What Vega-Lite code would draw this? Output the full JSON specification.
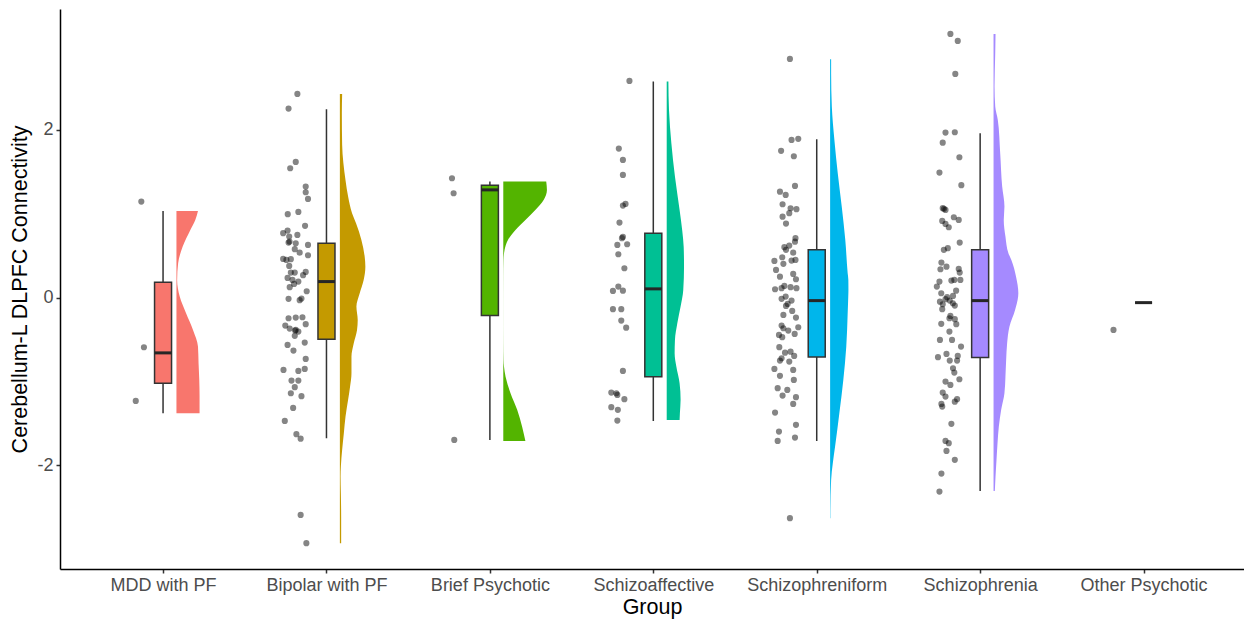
{
  "$schema": "https://vega.github.io/schema/vega-lite/v6.json",
  "width": 1184,
  "height": 560,
  "autosize": {"type": "none"},
  "padding": {"left": 60, "top": 9, "right": 0, "bottom": 51},
  "background": "white",
  "config": {
    "view": {"stroke": null},
    "font": "Liberation Sans",
    "axis": {"grid": false, "domainColor": "black", "domainWidth": 1.5, "tickColor": "#333333", "tickWidth": 1.5, "tickSize": 4, "labelFont": "Liberation Sans", "labelFontSize": 18, "labelColor": "#4D4D4D", "labelPadding": 3, "titleFont": "Liberation Sans", "titleFontSize": 21.5, "titleFontWeight": "normal", "titleColor": "black"}
  },
  "datasets": {
    "boxes": [
      {"group": "MDD with PF", "gx": 1, "lower": -1.378, "q1": -1.02, "median": -0.659, "q3": 0.183, "upper": 1.033},
      {"group": "Bipolar with PF", "gx": 2, "lower": -1.676, "q1": -0.496, "median": 0.191, "q3": 0.648, "upper": 2.245},
      {"group": "Brief Psychotic", "gx": 3, "lower": -1.696, "q1": -0.214, "median": 1.284, "q3": 1.34, "upper": 1.383},
      {"group": "Schizoaffective", "gx": 4, "lower": -1.47, "q1": -0.942, "median": 0.104, "q3": 0.767, "upper": 2.575},
      {"group": "Schizophreniform", "gx": 5, "lower": -1.708, "q1": -0.707, "median": -0.036, "q3": 0.569, "upper": 1.888},
      {"group": "Schizophrenia", "gx": 6, "lower": -2.304, "q1": -0.715, "median": -0.036, "q3": 0.569, "upper": 1.959},
      {"group": "Other Psychotic", "gx": 7, "lower": -0.06, "q1": -0.06, "median": -0.06, "q3": -0.06, "upper": -0.06}
    ],
    "violins": [
      {"group": "MDD with PF", "y": 1.033, "xmin": 1.082, "xmax": 1.2137},
      {"group": "MDD with PF", "y": 0.926, "xmin": 1.082, "xmax": 1.1973},
      {"group": "MDD with PF", "y": 0.807, "xmin": 1.082, "xmax": 1.167},
      {"group": "MDD with PF", "y": 0.608, "xmin": 1.082, "xmax": 1.1202},
      {"group": "MDD with PF", "y": 0.41, "xmin": 1.082, "xmax": 1.0923},
      {"group": "MDD with PF", "y": 0.211, "xmin": 1.082, "xmax": 1.0862},
      {"group": "MDD with PF", "y": 0.012, "xmin": 1.082, "xmax": 1.102},
      {"group": "MDD with PF", "y": -0.186, "xmin": 1.082, "xmax": 1.1409},
      {"group": "MDD with PF", "y": -0.385, "xmin": 1.082, "xmax": 1.1833},
      {"group": "MDD with PF", "y": -0.584, "xmin": 1.082, "xmax": 1.2137},
      {"group": "MDD with PF", "y": -0.782, "xmin": 1.082, "xmax": 1.2173},
      {"group": "MDD with PF", "y": -0.981, "xmin": 1.082, "xmax": 1.2216},
      {"group": "MDD with PF", "y": -1.18, "xmin": 1.082, "xmax": 1.2234},
      {"group": "MDD with PF", "y": -1.378, "xmin": 1.082, "xmax": 1.2234},
      {"group": "Bipolar with PF", "y": 2.428, "xmin": 2.082, "xmax": 2.096},
      {"group": "Bipolar with PF", "y": 2.2, "xmin": 2.082, "xmax": 2.0941},
      {"group": "Bipolar with PF", "y": 1.82, "xmin": 2.082, "xmax": 2.096},
      {"group": "Bipolar with PF", "y": 1.4, "xmin": 2.082, "xmax": 2.1166},
      {"group": "Bipolar with PF", "y": 1.204, "xmin": 2.082, "xmax": 2.1324},
      {"group": "Bipolar with PF", "y": 1.006, "xmin": 2.082, "xmax": 2.1566},
      {"group": "Bipolar with PF", "y": 0.887, "xmin": 2.082, "xmax": 2.1809},
      {"group": "Bipolar with PF", "y": 0.688, "xmin": 2.082, "xmax": 2.2137},
      {"group": "Bipolar with PF", "y": 0.489, "xmin": 2.082, "xmax": 2.2337},
      {"group": "Bipolar with PF", "y": 0.369, "xmin": 2.082, "xmax": 2.238},
      {"group": "Bipolar with PF", "y": 0.211, "xmin": 2.082, "xmax": 2.2276},
      {"group": "Bipolar with PF", "y": 0.052, "xmin": 2.082, "xmax": 2.2034},
      {"group": "Bipolar with PF", "y": -0.107, "xmin": 2.082, "xmax": 2.1833},
      {"group": "Bipolar with PF", "y": -0.266, "xmin": 2.082, "xmax": 2.1912},
      {"group": "Bipolar with PF", "y": -0.385, "xmin": 2.082, "xmax": 2.187},
      {"group": "Bipolar with PF", "y": -0.544, "xmin": 2.082, "xmax": 2.167},
      {"group": "Bipolar with PF", "y": -0.703, "xmin": 2.082, "xmax": 2.153},
      {"group": "Bipolar with PF", "y": -0.901, "xmin": 2.082, "xmax": 2.153},
      {"group": "Bipolar with PF", "y": -1.061, "xmin": 2.082, "xmax": 2.1445},
      {"group": "Bipolar with PF", "y": -1.219, "xmin": 2.082, "xmax": 2.1324},
      {"group": "Bipolar with PF", "y": -1.418, "xmin": 2.082, "xmax": 2.1166},
      {"group": "Bipolar with PF", "y": -1.616, "xmin": 2.082, "xmax": 2.1063},
      {"group": "Bipolar with PF", "y": -1.815, "xmin": 2.082, "xmax": 2.096},
      {"group": "Bipolar with PF", "y": -2.014, "xmin": 2.082, "xmax": 2.0881},
      {"group": "Bipolar with PF", "y": -2.133, "xmin": 2.082, "xmax": 2.0862},
      {"group": "Bipolar with PF", "y": -2.332, "xmin": 2.082, "xmax": 2.0881},
      {"group": "Bipolar with PF", "y": -2.61, "xmin": 2.082, "xmax": 2.0899},
      {"group": "Bipolar with PF", "y": -2.927, "xmin": 2.082, "xmax": 2.0899},
      {"group": "Brief Psychotic", "y": 1.383, "xmin": 3.082, "xmax": 3.3447},
      {"group": "Brief Psychotic", "y": 1.284, "xmin": 3.082, "xmax": 3.349},
      {"group": "Brief Psychotic", "y": 1.164, "xmin": 3.082, "xmax": 3.329},
      {"group": "Brief Psychotic", "y": 1.045, "xmin": 3.082, "xmax": 3.278},
      {"group": "Brief Psychotic", "y": 0.926, "xmin": 3.082, "xmax": 3.2173},
      {"group": "Brief Psychotic", "y": 0.807, "xmin": 3.082, "xmax": 3.1566},
      {"group": "Brief Psychotic", "y": 0.688, "xmin": 3.082, "xmax": 3.1105},
      {"group": "Brief Psychotic", "y": 0.569, "xmin": 3.082, "xmax": 3.0899},
      {"group": "Brief Psychotic", "y": 0.449, "xmin": 3.082, "xmax": 3.0838},
      {"group": "Brief Psychotic", "y": 0.25, "xmin": 3.082, "xmax": 3.0826},
      {"group": "Brief Psychotic", "y": -0.147, "xmin": 3.082, "xmax": 3.0823},
      {"group": "Brief Psychotic", "y": -0.544, "xmin": 3.082, "xmax": 3.0826},
      {"group": "Brief Psychotic", "y": -0.743, "xmin": 3.082, "xmax": 3.0838},
      {"group": "Brief Psychotic", "y": -0.822, "xmin": 3.082, "xmax": 3.0862},
      {"group": "Brief Psychotic", "y": -0.942, "xmin": 3.082, "xmax": 3.096},
      {"group": "Brief Psychotic", "y": -1.14, "xmin": 3.082, "xmax": 3.1263},
      {"group": "Brief Psychotic", "y": -1.338, "xmin": 3.082, "xmax": 3.167},
      {"group": "Brief Psychotic", "y": -1.538, "xmin": 3.082, "xmax": 3.1973},
      {"group": "Brief Psychotic", "y": -1.708, "xmin": 3.082, "xmax": 3.2173},
      {"group": "Schizoaffective", "y": 2.575, "xmin": 4.082, "xmax": 4.0923},
      {"group": "Schizoaffective", "y": 2.237, "xmin": 4.082, "xmax": 4.096},
      {"group": "Schizoaffective", "y": 1.84, "xmin": 4.082, "xmax": 4.1105},
      {"group": "Schizoaffective", "y": 1.442, "xmin": 4.082, "xmax": 4.1324},
      {"group": "Schizoaffective", "y": 1.045, "xmin": 4.082, "xmax": 4.1609},
      {"group": "Schizoaffective", "y": 0.8, "xmin": 4.082, "xmax": 4.177},
      {"group": "Schizoaffective", "y": 0.6, "xmin": 4.082, "xmax": 4.186},
      {"group": "Schizoaffective", "y": 0.369, "xmin": 4.082, "xmax": 4.188},
      {"group": "Schizoaffective", "y": 0.092, "xmin": 4.082, "xmax": 4.1833},
      {"group": "Schizoaffective", "y": -0.107, "xmin": 4.082, "xmax": 4.167},
      {"group": "Schizoaffective", "y": -0.305, "xmin": 4.082, "xmax": 4.1469},
      {"group": "Schizoaffective", "y": -0.504, "xmin": 4.082, "xmax": 4.1324},
      {"group": "Schizoaffective", "y": -0.663, "xmin": 4.082, "xmax": 4.1305},
      {"group": "Schizoaffective", "y": -0.822, "xmin": 4.082, "xmax": 4.1409},
      {"group": "Schizoaffective", "y": -1.02, "xmin": 4.082, "xmax": 4.1609},
      {"group": "Schizoaffective", "y": -1.219, "xmin": 4.082, "xmax": 4.167},
      {"group": "Schizoaffective", "y": -1.378, "xmin": 4.082, "xmax": 4.1627},
      {"group": "Schizoaffective", "y": -1.458, "xmin": 4.082, "xmax": 4.1609},
      {"group": "Schizophreniform", "y": 2.841, "xmin": 5.082, "xmax": 5.0881},
      {"group": "Schizophreniform", "y": 2.675, "xmin": 5.082, "xmax": 5.0881},
      {"group": "Schizophreniform", "y": 2.277, "xmin": 5.082, "xmax": 5.0923},
      {"group": "Schizophreniform", "y": 1.88, "xmin": 5.082, "xmax": 5.1081},
      {"group": "Schizophreniform", "y": 1.483, "xmin": 5.082, "xmax": 5.1287},
      {"group": "Schizophreniform", "y": 1.085, "xmin": 5.082, "xmax": 5.153},
      {"group": "Schizophreniform", "y": 0.688, "xmin": 5.082, "xmax": 5.1748},
      {"group": "Schizophreniform", "y": 0.291, "xmin": 5.082, "xmax": 5.1894},
      {"group": "Schizophreniform", "y": 0.211, "xmin": 5.082, "xmax": 5.1935},
      {"group": "Schizophreniform", "y": 0.092, "xmin": 5.082, "xmax": 5.194},
      {"group": "Schizophreniform", "y": 0.012, "xmin": 5.082, "xmax": 5.193},
      {"group": "Schizophreniform", "y": -0.186, "xmin": 5.082, "xmax": 5.1894},
      {"group": "Schizophreniform", "y": -0.584, "xmin": 5.082, "xmax": 5.1809},
      {"group": "Schizophreniform", "y": -0.981, "xmin": 5.082, "xmax": 5.1627},
      {"group": "Schizophreniform", "y": -1.378, "xmin": 5.082, "xmax": 5.1384},
      {"group": "Schizophreniform", "y": -1.776, "xmin": 5.082, "xmax": 5.1123},
      {"group": "Schizophreniform", "y": -1.974, "xmin": 5.082, "xmax": 5.0984},
      {"group": "Schizophreniform", "y": -2.173, "xmin": 5.082, "xmax": 5.0881},
      {"group": "Schizophreniform", "y": -2.57, "xmin": 5.082, "xmax": 5.0838},
      {"group": "Schizophreniform", "y": -2.629, "xmin": 5.082, "xmax": 5.0838},
      {"group": "Schizophrenia", "y": 3.143, "xmin": 6.082, "xmax": 6.0941},
      {"group": "Schizophrenia", "y": 2.913, "xmin": 6.082, "xmax": 6.0923},
      {"group": "Schizophrenia", "y": 2.515, "xmin": 6.082, "xmax": 6.0881},
      {"group": "Schizophrenia", "y": 2.277, "xmin": 6.082, "xmax": 6.0923},
      {"group": "Schizophrenia", "y": 2.118, "xmin": 6.082, "xmax": 6.1081},
      {"group": "Schizophrenia", "y": 1.721, "xmin": 6.082, "xmax": 6.1227},
      {"group": "Schizophrenia", "y": 1.323, "xmin": 6.082, "xmax": 6.1348},
      {"group": "Schizophrenia", "y": 1.085, "xmin": 6.082, "xmax": 6.1487},
      {"group": "Schizophrenia", "y": 0.926, "xmin": 6.082, "xmax": 6.1445},
      {"group": "Schizophrenia", "y": 0.727, "xmin": 6.082, "xmax": 6.1548},
      {"group": "Schizophrenia", "y": 0.529, "xmin": 6.082, "xmax": 6.173},
      {"group": "Schizophrenia", "y": 0.449, "xmin": 6.082, "xmax": 6.191},
      {"group": "Schizophrenia", "y": 0.25, "xmin": 6.082, "xmax": 6.2197},
      {"group": "Schizophrenia", "y": 0.052, "xmin": 6.082, "xmax": 6.2337},
      {"group": "Schizophrenia", "y": -0.147, "xmin": 6.082, "xmax": 6.2137},
      {"group": "Schizophrenia", "y": -0.346, "xmin": 6.082, "xmax": 6.1791},
      {"group": "Schizophrenia", "y": -0.544, "xmin": 6.082, "xmax": 6.1651},
      {"group": "Schizophrenia", "y": -0.743, "xmin": 6.082, "xmax": 6.1591},
      {"group": "Schizophrenia", "y": -0.942, "xmin": 6.082, "xmax": 6.1548},
      {"group": "Schizophrenia", "y": -1.14, "xmin": 6.082, "xmax": 6.1487},
      {"group": "Schizophrenia", "y": -1.338, "xmin": 6.082, "xmax": 6.1287},
      {"group": "Schizophrenia", "y": -1.538, "xmin": 6.082, "xmax": 6.1142},
      {"group": "Schizophrenia", "y": -1.735, "xmin": 6.082, "xmax": 6.1063},
      {"group": "Schizophrenia", "y": -1.934, "xmin": 6.082, "xmax": 6.1002},
      {"group": "Schizophrenia", "y": -2.133, "xmin": 6.082, "xmax": 6.0941},
      {"group": "Schizophrenia", "y": -2.304, "xmin": 6.082, "xmax": 6.0899}
    ],
    "points": [
      {"group": "MDD with PF", "x": 0.867, "y": 1.144},
      {"group": "MDD with PF", "x": 0.883, "y": -0.592},
      {"group": "MDD with PF", "x": 0.833, "y": -1.232},
      {"group": "Brief Psychotic", "x": 2.768, "y": 1.423},
      {"group": "Brief Psychotic", "x": 2.778, "y": 1.244},
      {"group": "Brief Psychotic", "x": 2.782, "y": -1.696},
      {"group": "Other Psychotic", "x": 6.816, "y": -0.385},
      {"group": "Bipolar with PF", "x": 1.822, "y": 2.428},
      {"group": "Bipolar with PF", "x": 1.768, "y": 2.253},
      {"group": "Bipolar with PF", "x": 1.812, "y": 1.617},
      {"group": "Bipolar with PF", "x": 1.778, "y": 1.542},
      {"group": "Bipolar with PF", "x": 1.873, "y": 1.323},
      {"group": "Bipolar with PF", "x": 1.873, "y": 1.256},
      {"group": "Bipolar with PF", "x": 1.887, "y": 1.176},
      {"group": "Bipolar with PF", "x": 1.763, "y": 0.994},
      {"group": "Bipolar with PF", "x": 1.828, "y": 1.021},
      {"group": "Bipolar with PF", "x": 1.869, "y": 0.855},
      {"group": "Bipolar with PF", "x": 1.762, "y": 0.799},
      {"group": "Bipolar with PF", "x": 1.735, "y": 0.768},
      {"group": "Bipolar with PF", "x": 1.772, "y": 0.727},
      {"group": "Bipolar with PF", "x": 1.822, "y": 0.747},
      {"group": "Bipolar with PF", "x": 1.768, "y": 0.656},
      {"group": "Bipolar with PF", "x": 1.774, "y": 0.668},
      {"group": "Bipolar with PF", "x": 1.812, "y": 0.648},
      {"group": "Bipolar with PF", "x": 1.887, "y": 0.628},
      {"group": "Bipolar with PF", "x": 1.806, "y": 0.577},
      {"group": "Bipolar with PF", "x": 1.836, "y": 0.536},
      {"group": "Bipolar with PF", "x": 1.887, "y": 0.505},
      {"group": "Bipolar with PF", "x": 1.735, "y": 0.461},
      {"group": "Bipolar with PF", "x": 1.755, "y": 0.449},
      {"group": "Bipolar with PF", "x": 1.782, "y": 0.458},
      {"group": "Bipolar with PF", "x": 1.772, "y": 0.378},
      {"group": "Bipolar with PF", "x": 1.873, "y": 0.306},
      {"group": "Bipolar with PF", "x": 1.782, "y": 0.298},
      {"group": "Bipolar with PF", "x": 1.806, "y": 0.298},
      {"group": "Bipolar with PF", "x": 1.857, "y": 0.267},
      {"group": "Bipolar with PF", "x": 1.762, "y": 0.235},
      {"group": "Bipolar with PF", "x": 1.828, "y": 0.191},
      {"group": "Bipolar with PF", "x": 1.792, "y": 0.211},
      {"group": "Bipolar with PF", "x": 1.802, "y": 0.163},
      {"group": "Bipolar with PF", "x": 1.775, "y": 0.124},
      {"group": "Bipolar with PF", "x": 1.879, "y": 0.076},
      {"group": "Bipolar with PF", "x": 1.768, "y": -0.015},
      {"group": "Bipolar with PF", "x": 1.847, "y": -0.012},
      {"group": "Bipolar with PF", "x": 1.836, "y": -0.031},
      {"group": "Bipolar with PF", "x": 1.768, "y": -0.246},
      {"group": "Bipolar with PF", "x": 1.812, "y": -0.238},
      {"group": "Bipolar with PF", "x": 1.853, "y": -0.234},
      {"group": "Bipolar with PF", "x": 1.748, "y": -0.334},
      {"group": "Bipolar with PF", "x": 1.775, "y": -0.369},
      {"group": "Bipolar with PF", "x": 1.812, "y": -0.385},
      {"group": "Bipolar with PF", "x": 1.808, "y": -0.392},
      {"group": "Bipolar with PF", "x": 1.828, "y": -0.405},
      {"group": "Bipolar with PF", "x": 1.873, "y": -0.317},
      {"group": "Bipolar with PF", "x": 1.806, "y": -0.456},
      {"group": "Bipolar with PF", "x": 1.762, "y": -0.564},
      {"group": "Bipolar with PF", "x": 1.867, "y": -0.536},
      {"group": "Bipolar with PF", "x": 1.798, "y": -0.632},
      {"group": "Bipolar with PF", "x": 1.873, "y": -0.731},
      {"group": "Bipolar with PF", "x": 1.737, "y": -0.862},
      {"group": "Bipolar with PF", "x": 1.828, "y": -0.874},
      {"group": "Bipolar with PF", "x": 1.867, "y": -0.85},
      {"group": "Bipolar with PF", "x": 1.786, "y": -0.989},
      {"group": "Bipolar with PF", "x": 1.828, "y": -0.989},
      {"group": "Bipolar with PF", "x": 1.806, "y": -1.068},
      {"group": "Bipolar with PF", "x": 1.782, "y": -1.14},
      {"group": "Bipolar with PF", "x": 1.847, "y": -1.175},
      {"group": "Bipolar with PF", "x": 1.796, "y": -1.315},
      {"group": "Bipolar with PF", "x": 1.745, "y": -1.47},
      {"group": "Bipolar with PF", "x": 1.816, "y": -1.628},
      {"group": "Bipolar with PF", "x": 1.842, "y": -1.681},
      {"group": "Bipolar with PF", "x": 1.842, "y": -2.59},
      {"group": "Bipolar with PF", "x": 1.877, "y": -2.927},
      {"group": "Schizoaffective", "x": 3.854, "y": 2.583},
      {"group": "Schizoaffective", "x": 3.789, "y": 1.776},
      {"group": "Schizoaffective", "x": 3.814, "y": 1.641},
      {"group": "Schizoaffective", "x": 3.814, "y": 1.462},
      {"group": "Schizoaffective", "x": 3.814, "y": 1.097},
      {"group": "Schizoaffective", "x": 3.83, "y": 1.117},
      {"group": "Schizoaffective", "x": 3.793, "y": 0.894},
      {"group": "Schizoaffective", "x": 3.808, "y": 0.708},
      {"group": "Schizoaffective", "x": 3.814, "y": 0.723},
      {"group": "Schizoaffective", "x": 3.78, "y": 0.628},
      {"group": "Schizoaffective", "x": 3.84, "y": 0.636},
      {"group": "Schizoaffective", "x": 3.786, "y": 0.517},
      {"group": "Schizoaffective", "x": 3.823, "y": 0.35},
      {"group": "Schizoaffective", "x": 3.786, "y": 0.131},
      {"group": "Schizoaffective", "x": 3.753, "y": 0.08},
      {"group": "Schizoaffective", "x": 3.814, "y": 0.083},
      {"group": "Schizoaffective", "x": 3.753, "y": -0.138},
      {"group": "Schizoaffective", "x": 3.804, "y": -0.138},
      {"group": "Schizoaffective", "x": 3.804, "y": -0.274},
      {"group": "Schizoaffective", "x": 3.834, "y": -0.358},
      {"group": "Schizoaffective", "x": 3.814, "y": -0.874},
      {"group": "Schizoaffective", "x": 3.743, "y": -1.132},
      {"group": "Schizoaffective", "x": 3.774, "y": -1.14},
      {"group": "Schizoaffective", "x": 3.78, "y": -1.16},
      {"group": "Schizoaffective", "x": 3.823, "y": -1.211},
      {"group": "Schizoaffective", "x": 3.743, "y": -1.306},
      {"group": "Schizoaffective", "x": 3.783, "y": -1.338},
      {"group": "Schizoaffective", "x": 3.78, "y": -1.466},
      {"group": "Schizophreniform", "x": 4.836, "y": 2.845},
      {"group": "Schizophreniform", "x": 4.846, "y": 1.88},
      {"group": "Schizophreniform", "x": 4.887, "y": 1.892},
      {"group": "Schizophreniform", "x": 4.782, "y": 1.749},
      {"group": "Schizophreniform", "x": 4.86, "y": 1.685},
      {"group": "Schizophreniform", "x": 4.867, "y": 1.331},
      {"group": "Schizophreniform", "x": 4.775, "y": 1.263},
      {"group": "Schizophreniform", "x": 4.81, "y": 1.224},
      {"group": "Schizophreniform", "x": 4.791, "y": 1.113},
      {"group": "Schizophreniform", "x": 4.84, "y": 1.065},
      {"group": "Schizophreniform", "x": 4.876, "y": 1.054},
      {"group": "Schizophreniform", "x": 4.791, "y": 0.965},
      {"group": "Schizophreniform", "x": 4.832, "y": 1.006},
      {"group": "Schizophreniform", "x": 4.812, "y": 0.882},
      {"group": "Schizophreniform", "x": 4.87, "y": 0.708},
      {"group": "Schizophreniform", "x": 4.867, "y": 0.667},
      {"group": "Schizophreniform", "x": 4.832, "y": 0.62},
      {"group": "Schizophreniform", "x": 4.802, "y": 0.601},
      {"group": "Schizophreniform", "x": 4.812, "y": 0.569},
      {"group": "Schizophreniform", "x": 4.856, "y": 0.536},
      {"group": "Schizophreniform", "x": 4.789, "y": 0.481},
      {"group": "Schizophreniform", "x": 4.741, "y": 0.437},
      {"group": "Schizophreniform", "x": 4.846, "y": 0.441},
      {"group": "Schizophreniform", "x": 4.87, "y": 0.449},
      {"group": "Schizophreniform", "x": 4.796, "y": 0.402},
      {"group": "Schizophreniform", "x": 4.751, "y": 0.33},
      {"group": "Schizophreniform", "x": 4.856, "y": 0.282},
      {"group": "Schizophreniform", "x": 4.775, "y": 0.25},
      {"group": "Schizophreniform", "x": 4.873, "y": 0.219},
      {"group": "Schizophreniform", "x": 4.802, "y": 0.139},
      {"group": "Schizophreniform", "x": 4.84, "y": 0.124},
      {"group": "Schizophreniform", "x": 4.785, "y": 0.112},
      {"group": "Schizophreniform", "x": 4.876, "y": 0.112},
      {"group": "Schizophreniform", "x": 4.745, "y": 0.1},
      {"group": "Schizophreniform", "x": 4.785, "y": -0.015},
      {"group": "Schizophreniform", "x": 4.81, "y": 0.012},
      {"group": "Schizophreniform", "x": 4.846, "y": -0.036},
      {"group": "Schizophreniform", "x": 4.822, "y": -0.075},
      {"group": "Schizophreniform", "x": 4.812, "y": -0.099},
      {"group": "Schizophreniform", "x": 4.85, "y": -0.159},
      {"group": "Schizophreniform", "x": 4.796, "y": -0.206},
      {"group": "Schizophreniform", "x": 4.873, "y": -0.238},
      {"group": "Schizophreniform", "x": 4.785, "y": -0.334},
      {"group": "Schizophreniform", "x": 4.796, "y": -0.365},
      {"group": "Schizophreniform", "x": 4.826, "y": -0.393},
      {"group": "Schizophreniform", "x": 4.887, "y": -0.353},
      {"group": "Schizophreniform", "x": 4.769, "y": -0.445},
      {"group": "Schizophreniform", "x": 4.865, "y": -0.433},
      {"group": "Schizophreniform", "x": 4.789, "y": -0.472},
      {"group": "Schizophreniform", "x": 4.771, "y": -0.591},
      {"group": "Schizophreniform", "x": 4.806, "y": -0.656},
      {"group": "Schizophreniform", "x": 4.84, "y": -0.644},
      {"group": "Schizophreniform", "x": 4.862, "y": -0.695},
      {"group": "Schizophreniform", "x": 4.785, "y": -0.723},
      {"group": "Schizophreniform", "x": 4.832, "y": -0.763},
      {"group": "Schizophreniform", "x": 4.775, "y": -0.751},
      {"group": "Schizophreniform", "x": 4.741, "y": -0.85},
      {"group": "Schizophreniform", "x": 4.856, "y": -0.862},
      {"group": "Schizophreniform", "x": 4.775, "y": -0.933},
      {"group": "Schizophreniform", "x": 4.86, "y": -0.981},
      {"group": "Schizophreniform", "x": 4.761, "y": -1.08},
      {"group": "Schizophreniform", "x": 4.82, "y": -1.1},
      {"group": "Schizophreniform", "x": 4.791, "y": -1.168},
      {"group": "Schizophreniform", "x": 4.873, "y": -1.187},
      {"group": "Schizophreniform", "x": 4.856, "y": -1.267},
      {"group": "Schizophreniform", "x": 4.745, "y": -1.371},
      {"group": "Schizophreniform", "x": 4.873, "y": -1.517},
      {"group": "Schizophreniform", "x": 4.769, "y": -1.597},
      {"group": "Schizophreniform", "x": 4.761, "y": -1.708},
      {"group": "Schizophreniform", "x": 4.867, "y": -1.669},
      {"group": "Schizophreniform", "x": 4.836, "y": -2.629},
      {"group": "Schizophrenia", "x": 5.818, "y": 3.143},
      {"group": "Schizophrenia", "x": 5.863, "y": 3.06},
      {"group": "Schizophrenia", "x": 5.848, "y": 2.666},
      {"group": "Schizophrenia", "x": 5.788, "y": 1.967},
      {"group": "Schizophrenia", "x": 5.845, "y": 1.971},
      {"group": "Schizophrenia", "x": 5.771, "y": 1.847},
      {"group": "Schizophrenia", "x": 5.873, "y": 1.673},
      {"group": "Schizophrenia", "x": 5.751, "y": 1.49},
      {"group": "Schizophrenia", "x": 5.885, "y": 1.34},
      {"group": "Schizophrenia", "x": 5.771, "y": 1.066},
      {"group": "Schizophrenia", "x": 5.788, "y": 1.045},
      {"group": "Schizophrenia", "x": 5.779, "y": 1.058},
      {"group": "Schizophrenia", "x": 5.839, "y": 0.958},
      {"group": "Schizophrenia", "x": 5.869, "y": 0.926},
      {"group": "Schizophrenia", "x": 5.768, "y": 0.914},
      {"group": "Schizophrenia", "x": 5.788, "y": 0.878},
      {"group": "Schizophrenia", "x": 5.808, "y": 0.839},
      {"group": "Schizophrenia", "x": 5.875, "y": 0.656},
      {"group": "Schizophrenia", "x": 5.778, "y": 0.569},
      {"group": "Schizophrenia", "x": 5.802, "y": 0.589},
      {"group": "Schizophrenia", "x": 5.763, "y": 0.417},
      {"group": "Schizophrenia", "x": 5.794, "y": 0.369},
      {"group": "Schizophrenia", "x": 5.757, "y": 0.338},
      {"group": "Schizophrenia", "x": 5.869, "y": 0.342},
      {"group": "Schizophrenia", "x": 5.875, "y": 0.298},
      {"group": "Schizophrenia", "x": 5.842, "y": 0.211},
      {"group": "Schizophrenia", "x": 5.879, "y": 0.211},
      {"group": "Schizophrenia", "x": 5.751, "y": 0.191},
      {"group": "Schizophrenia", "x": 5.824, "y": 0.203},
      {"group": "Schizophrenia", "x": 5.735, "y": 0.131},
      {"group": "Schizophrenia", "x": 5.853, "y": 0.083},
      {"group": "Schizophrenia", "x": 5.762, "y": 0.052},
      {"group": "Schizophrenia", "x": 5.834, "y": 0.02},
      {"group": "Schizophrenia", "x": 5.798, "y": 0.005},
      {"group": "Schizophrenia", "x": 5.788, "y": -0.019},
      {"group": "Schizophrenia", "x": 5.754, "y": -0.048},
      {"group": "Schizophrenia", "x": 5.814, "y": -0.036},
      {"group": "Schizophrenia", "x": 5.771, "y": -0.079},
      {"group": "Schizophrenia", "x": 5.833, "y": -0.067},
      {"group": "Schizophrenia", "x": 5.845, "y": -0.095},
      {"group": "Schizophrenia", "x": 5.768, "y": -0.138},
      {"group": "Schizophrenia", "x": 5.818, "y": -0.218},
      {"group": "Schizophrenia", "x": 5.812, "y": -0.246},
      {"group": "Schizophrenia", "x": 5.845, "y": -0.257},
      {"group": "Schizophrenia", "x": 5.762, "y": -0.313},
      {"group": "Schizophrenia", "x": 5.854, "y": -0.317},
      {"group": "Schizophrenia", "x": 5.812, "y": -0.405},
      {"group": "Schizophrenia", "x": 5.754, "y": -0.504},
      {"group": "Schizophrenia", "x": 5.828, "y": -0.504},
      {"group": "Schizophrenia", "x": 5.883, "y": -0.584},
      {"group": "Schizophrenia", "x": 5.794, "y": -0.671},
      {"group": "Schizophrenia", "x": 5.742, "y": -0.71},
      {"group": "Schizophrenia", "x": 5.863, "y": -0.695},
      {"group": "Schizophrenia", "x": 5.814, "y": -0.751},
      {"group": "Schizophrenia", "x": 5.859, "y": -0.751},
      {"group": "Schizophrenia", "x": 5.834, "y": -0.842},
      {"group": "Schizophrenia", "x": 5.842, "y": -0.894},
      {"group": "Schizophrenia", "x": 5.873, "y": -0.973},
      {"group": "Schizophrenia", "x": 5.788, "y": -1.001},
      {"group": "Schizophrenia", "x": 5.818, "y": -1.041},
      {"group": "Schizophrenia", "x": 5.771, "y": -1.132},
      {"group": "Schizophrenia", "x": 5.788, "y": -1.18},
      {"group": "Schizophrenia", "x": 5.859, "y": -1.211},
      {"group": "Schizophrenia", "x": 5.845, "y": -1.24},
      {"group": "Schizophrenia", "x": 5.763, "y": -1.267},
      {"group": "Schizophrenia", "x": 5.768, "y": -1.299},
      {"group": "Schizophrenia", "x": 5.824, "y": -1.505},
      {"group": "Schizophrenia", "x": 5.788, "y": -1.708},
      {"group": "Schizophrenia", "x": 5.808, "y": -1.735},
      {"group": "Schizophrenia", "x": 5.794, "y": -1.827},
      {"group": "Schizophrenia", "x": 5.845, "y": -1.934},
      {"group": "Schizophrenia", "x": 5.763, "y": -2.098},
      {"group": "Schizophrenia", "x": 5.751, "y": -2.312}
    ]
  },
  "encoding": {
    "y": {"type": "quantitative", "scale": {"domain": [-3.235, 3.44], "nice": false, "zero": false}, "axis": {"title": "Cerebellum-L DLPFC Connectivity", "values": [-2, 0, 2], "labelExpr": "toString(datum.value)", "titlePadding": 5}}
  },
  "layer": [
    {
      "data": {"name": "violins"},
      "mark": {"type": "area", "orient": "horizontal", "interpolate": "monotone", "opacity": 1},
      "encoding": {
        "y": {"field": "y", "type": "quantitative"},
        "x": {"field": "xmax", "type": "quantitative", "scale": {"domain": [0.4, 7.584], "nice": false, "zero": false}, "axis": {"title": "Group", "values": [1, 2, 3, 4, 5, 6, 7], "labelExpr": "['', 'MDD with PF', 'Bipolar with PF', 'Brief Psychotic', 'Schizoaffective', 'Schizophreniform', 'Schizophrenia', 'Other Psychotic'][datum.value]", "titlePadding": 2}},
        "x2": {"field": "xmin"},
        "color": {"field": "group", "type": "nominal", "legend": null, "scale": {"domain": ["MDD with PF", "Bipolar with PF", "Brief Psychotic", "Schizoaffective", "Schizophreniform", "Schizophrenia", "Other Psychotic"], "range": ["#F8766D", "#C49A00", "#53B400", "#00C094", "#00B6EB", "#A58AFF", "#FB61D7"]}}
      }
    },
    {
      "data": {"name": "points"},
      "mark": {"type": "circle", "color": "black", "opacity": 0.48, "size": 38},
      "encoding": {
        "x": {"field": "x", "type": "quantitative"},
        "y": {"field": "y", "type": "quantitative"}
      }
    },
    {
      "data": {"name": "boxes"},
      "mark": {"type": "rule", "color": "#333333", "strokeWidth": 1.5},
      "encoding": {
        "x": {"field": "gx", "type": "quantitative"},
        "y": {"field": "lower", "type": "quantitative"},
        "y2": {"field": "upper"}
      }
    },
    {
      "data": {"name": "boxes"},
      "mark": {"type": "bar", "orient": "vertical", "size": 17, "stroke": "#333333", "strokeWidth": 1.5, "opacity": 1},
      "encoding": {
        "x": {"field": "gx", "type": "quantitative"},
        "y": {"field": "q1", "type": "quantitative"},
        "y2": {"field": "q3"},
        "color": {"field": "group", "type": "nominal", "legend": null}
      }
    },
    {
      "data": {"name": "boxes"},
      "mark": {"type": "tick", "orient": "horizontal", "size": 17, "thickness": 3, "color": "#262626", "opacity": 1},
      "encoding": {
        "x": {"field": "gx", "type": "quantitative"},
        "y": {"field": "median", "type": "quantitative"}
      }
    }
  ]
}
